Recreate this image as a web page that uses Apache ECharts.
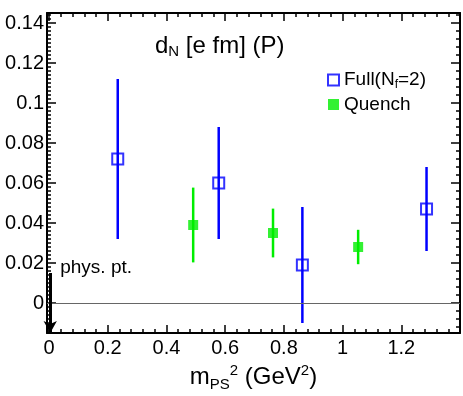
<!DOCTYPE html>
<html>
<head>
<meta charset="utf-8">
<script src="https://cdn.jsdelivr.net/npm/echarts@6/dist/echarts.min.js"></script>
<style>
  html, body { margin: 0; padding: 0; background: #fff; }
  #main { width: 463px; height: 396px; }
</style>
</head>
<body>
<div id="main"></div>
<script>
// values
var fullX = [0.234, 0.578, 0.863, 1.286];
var fullY = [0.072, 0.060, 0.019, 0.047];
var fullErr = [0.040, 0.028, 0.029, 0.021];

var quenchX = [0.491, 0.763, 1.053];
var quenchY = [0.039, 0.035, 0.028];
var quenchErr = [0.0187, 0.0122, 0.0086];

// physical point arrow
var physX = [0.004, 0.004];
var physY = [0.015, -0.015];

var xMajor = [0, 0.2, 0.4, 0.6, 0.8, 1, 1.2];
var yMajor = [0, 0.02, 0.04, 0.06, 0.08, 0.1, 0.12, 0.14];

var X_MIN = -0.007, X_MAX = 1.4;
var Y_MIN = -0.015, Y_MAX = 0.145;

// minor tick positions
function steps(from, to, step) {
  var out = [];
  for (var v = from; v <= to + 1e-9; v += step) out.push(Math.round(v * 10000) / 10000);
  return out;
}
var xMinor = steps(0, 1.4, 0.04);
var yMinorLeft = steps(-0.014, 0.144, 0.002);
var yMinorRight = steps(-0.012, 0.144, 0.004);

var FONT = 'Liberation Sans, Arial, sans-serif';

function xAx(pos, ticks, len, withLine, withLabel) {
  return {
    type: 'value', position: pos, min: X_MIN, max: X_MAX,
    axisLine: { show: withLine, onZero: false, lineStyle: { color: '#000', width: 2 } },
    axisTick: { show: true, inside: true, length: len, customValues: ticks, lineStyle: { color: '#000', width: 1.5 } },
    axisLabel: { show: withLabel, customValues: xMajor, color: '#000', fontSize: 20, fontFamily: FONT, margin: 5 },
    splitLine: { show: false }
  };
}
function yAx(pos, ticks, len, withLine, withLabel) {
  return {
    type: 'value', position: pos, min: Y_MIN, max: Y_MAX,
    axisLine: { show: withLine, onZero: false, lineStyle: { color: '#000', width: 2 } },
    axisTick: { show: true, inside: true, length: len, customValues: ticks, lineStyle: { color: '#000', width: 1.5 } },
    axisLabel: { show: withLabel, customValues: yMajor, color: '#000', fontSize: 20, fontFamily: FONT, margin: 3 },
    splitLine: { show: false }
  };
}

function errBars(xs, ys, es, color) {
  return {
    type: 'custom', xAxisIndex: 0, yAxisIndex: 0, silent: true, z: 2,
    encode: { x: 0, y: 1 },
    data: xs.map(function (x, i) { return [x, ys[i], es[i]]; }),
    renderItem: function (params, api) {
      var x = api.value(0), y = api.value(1), e = api.value(2);
      var p1 = api.coord([x, y + e]), p2 = api.coord([x, y - e]);
      return {
        type: 'line',
        shape: { x1: p1[0], y1: p1[1], x2: p2[0], y2: p2[1] },
        style: { stroke: color, lineWidth: 2.5 }
      };
    }
  };
}

var bottomAxis = xAx('bottom', xMajor, 8, true, true);
bottomAxis.name = '{t|m}{s|PS}{u|2}{t| (GeV}{u|2}{t|)}';
bottomAxis.nameLocation = 'middle';
bottomAxis.nameGap = 25;
bottomAxis.nameTextStyle = {
  rich: {
    t: { fontSize: 24, fontFamily: FONT, color: '#000', lineHeight: 34 },
    s: { fontSize: 15, fontFamily: FONT, color: '#000', lineHeight: 34, padding: [14, 0, 0, 0] },
    u: { fontSize: 15, fontFamily: FONT, color: '#000', lineHeight: 34, padding: [0, 0, 14, 0] }
  }
};

var option = {
  animation: false,
  backgroundColor: '#fff',
  grid: { left: 47, right: 3, top: 13, bottom: 63, outerBoundsMode: 'none', containLabel: false },
  title: {
    text: '{t|d}{s|N}{t| [e fm] (P)}',
    left: 150, top: 24,
    textStyle: {
      fontWeight: 'normal',
      rich: {
        t: { fontSize: 24, fontWeight: 'normal', fontFamily: FONT, color: '#000', lineHeight: 34 },
        s: { fontSize: 15, fontWeight: 'normal', fontFamily: FONT, color: '#000', lineHeight: 34, padding: [12, 0, 0, 0] }
      }
    }
  },
  legend: {
    orient: 'vertical', left: 322, top: 64,
    itemWidth: 11, itemHeight: 11, itemGap: 4,
    data: ['Full(Nf=2)', 'Quench'],
    formatter: function (name) {
      return name === 'Quench' ? '{t|Quench}' : '{t|Full(N}{s|f}{t|=2)}';
    },
    textStyle: {
      rich: {
        t: { fontSize: 19, fontFamily: FONT, color: '#000', lineHeight: 24 },
        s: { fontSize: 12, fontFamily: FONT, color: '#000', lineHeight: 24, padding: [10, 0, 0, 0] }
      }
    }
  },
  xAxis: [
    bottomAxis,
    xAx('bottom', xMinor, 4, false, false),
    xAx('top', xMajor, 8, true, false),
    xAx('top', xMinor, 4, false, false)
  ],
  yAxis: [
    yAx('left', yMajor, 9, true, true),
    yAx('left', yMinorLeft, 4, false, false),
    yAx('right', yMajor, 9, true, false),
    yAx('right', yMinorRight, 4, false, false)
  ],
  series: [
    {
      // zero line
      type: 'line', xAxisIndex: 0, yAxisIndex: 0, data: [], silent: true,
      markLine: {
        silent: true, symbol: 'none', label: { show: false },
        lineStyle: { color: '#666', width: 1, type: 'solid' },
        data: [{ yAxis: 0 }]
      }
    },
    {
      // physical point arrow
      type: 'line', xAxisIndex: 0, yAxisIndex: 0, silent: true,
      data: [[physX[0], physY[0]]], symbol: 'none', lineStyle: { width: 0 },
      markPoint: {
        silent: true, symbol: 'circle', symbolSize: 0,
        data: [{ coord: [physX[0], physY[0]] }],
        label: {
          show: true, formatter: 'phys. pt.', position: 'right', offset: [5, -5],
          fontSize: 19, fontFamily: FONT, color: '#000'
        }
      },
      markLine: {
        silent: true, label: { show: false },
        symbol: ['none', 'arrow'], symbolSize: [10, 12],
        lineStyle: { color: '#000', width: 3, type: 'solid' },
        data: [[{ coord: [physX[0], physY[0]] }, { coord: [physX[1], physY[1]] }]]
      }
    },
    errBars(fullX, fullY, fullErr, '#0000ff'),
    errBars(quenchX, quenchY, quenchErr, '#00ee00'),
    {
      name: 'Full(Nf=2)', type: 'scatter', xAxisIndex: 0, yAxisIndex: 0, z: 3,
      symbol: 'rect', symbolSize: 11,
      itemStyle: { color: 'rgba(0,0,0,0)', borderColor: '#0000ff', borderWidth: 2 },
      data: fullX.map(function (x, i) { return [x, fullY[i]]; })
    },
    {
      name: 'Quench', type: 'scatter', xAxisIndex: 0, yAxisIndex: 0, z: 3,
      symbol: 'rect', symbolSize: 10,
      itemStyle: { color: '#00ee00' },
      data: quenchX.map(function (x, i) { return [x, quenchY[i]]; })
    }
  ]
};

var chart = echarts.init(document.getElementById('main'));
chart.setOption(option);
</script>
</body>
</html>
